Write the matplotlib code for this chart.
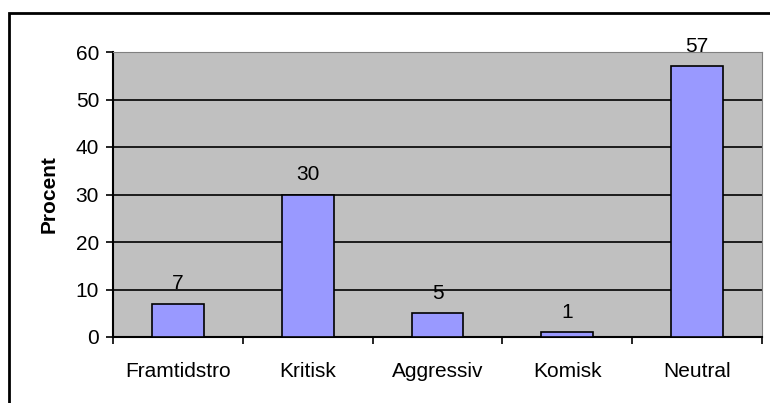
import matplotlib.pyplot as plt
from matplotlib.patches import Rectangle

categories = ['Framtidstro', 'Kritisk', 'Aggressiv', 'Komisk', 'Neutral']
values = [7, 30, 5, 1, 57]
yticks = [0, 10, 20, 30, 40, 50, 60]

plt.rcParams['font.family'] = ['Liberation Sans', 'DejaVu Sans']
FS = 15

W, H = 770, 403
fig = plt.figure(figsize=(W / 100, H / 100), dpi=100)

# outer chart frame (open to the right and bottom, as in the reference)
fig.patches.append(Rectangle((9 / W, -0.1), 1.2, 1 - 13 / H + 0.1,
                             transform=fig.transFigure, fill=False,
                             edgecolor='black', linewidth=2))

left, right, top, bottom = 113, 762, 52, 337
ax = fig.add_axes([left / W, 1 - bottom / H, (right - left) / W, (bottom - top) / H])
ax.set_facecolor('#C0C0C0')

x = range(len(categories))
ax.bar(x, values, width=0.4, color='#9999FF', edgecolor='black', linewidth=1.2, zorder=3)
for xi, v in zip(x, values):
    ax.annotate(str(v), (xi, v), xytext=(0, 14.5), textcoords='offset points',
                ha='center', va='center', fontsize=FS, annotation_clip=False)

ax.set_xlim(-0.5, len(categories) - 0.5)
ax.set_ylim(0, 60)
ax.set_yticks(yticks)
ax.yaxis.grid(True, color='black', linewidth=1.2, zorder=1)
ax.set_axisbelow(True)

ax.set_xticks([i + 0.5 for i in range(-1, len(categories))])
ax.set_xticklabels([])
ax.set_xticks(list(x), minor=True)
ax.set_xticklabels(categories, minor=True, fontsize=FS)
ax.tick_params(axis='x', which='minor', length=0, pad=18)
ax.tick_params(axis='x', which='major', length=5, width=1.2, direction='out')
ax.tick_params(axis='y', length=5, width=1.2, direction='out', labelsize=FS, pad=5)

ax.spines['left'].set_linewidth(1.5)
ax.spines['bottom'].set_linewidth(1.5)
ax.spines['top'].set_color('#808080')
ax.spines['right'].set_color('#808080')

ax.set_ylabel('Procent', fontsize=FS, fontweight='bold', labelpad=12)

fig.savefig('out.png', dpi=100)
